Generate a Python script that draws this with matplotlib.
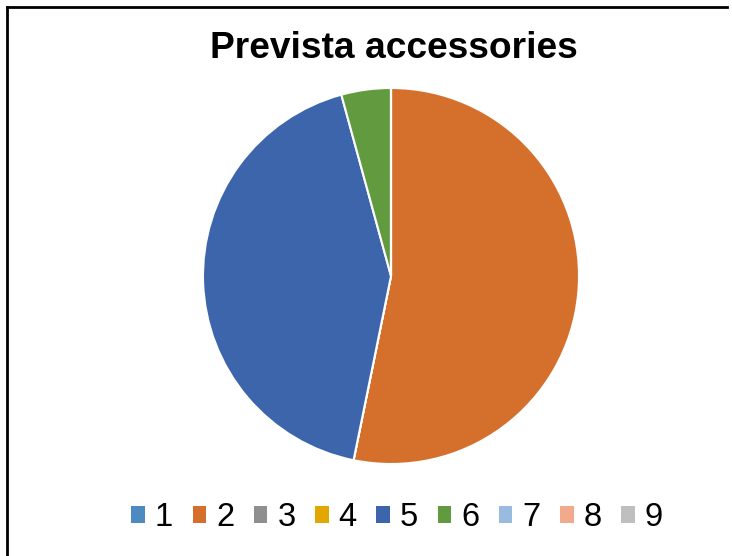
import matplotlib
matplotlib.use("Agg")
import matplotlib.pyplot as plt
from matplotlib.lines import Line2D
from matplotlib.patches import Patch

plt.rcParams['font.family'] = ['Liberation Sans', 'DejaVu Sans']

categories = ["1", "2", "3", "4", "5", "6", "7", "8", "9"]
values = [0, 25, 0, 0, 20, 2, 0, 0, 0]
colors = ["#4E8AC2", "#D46F2C", "#8F8F8F", "#E3A800", "#3D65AB",
          "#629B3F", "#9ABBE0", "#F2A98C", "#BFBFBF"]

W, H = 732, 556
fig = plt.figure(figsize=(W / 100, H / 100), dpi=100)

# pie centre / radius in pixels
cx, cy, r = 391, 276, 188
ax = fig.add_axes([(cx - r) / W, (H - cy - r) / H, 2 * r / W, 2 * r / H])
wedges, _ = ax.pie(values, colors=colors, startangle=90, counterclock=False,
                   radius=1, wedgeprops=dict(edgecolor="white", linewidth=1.5))
ax.set_xlim(-1, 1)
ax.set_ylim(-1, 1)
ax.set_aspect("equal")
ax.axis("off")

fig.text(394 / W, 1 - 48 / H, "Prevista accessories", ha="center", va="center",
         fontsize=26.7, fontweight="bold")

handles = [Patch(facecolor=c, edgecolor="none") for c in colors]
fig.legend(handles, categories, loc="center", bbox_to_anchor=(397 / W, 1 - 518 / H),
           ncol=9, frameon=False, fontsize=23.5, handlelength=0.42,
           handleheight=0.42, handletextpad=0.3, columnspacing=0.6,
           borderpad=0, borderaxespad=0)

# partial chart border (left and top only)
fig.add_artist(Line2D([7 / W, 7 / W], [0, 1 - 7 / H], transform=fig.transFigure,
                      color="black", linewidth=2, solid_capstyle="projecting"))
fig.add_artist(Line2D([7 / W, 727 / W], [1 - 7 / H, 1 - 7 / H], transform=fig.transFigure,
                      color="black", linewidth=2, solid_capstyle="projecting"))

fig.savefig("out.png", dpi=100, facecolor="white")
